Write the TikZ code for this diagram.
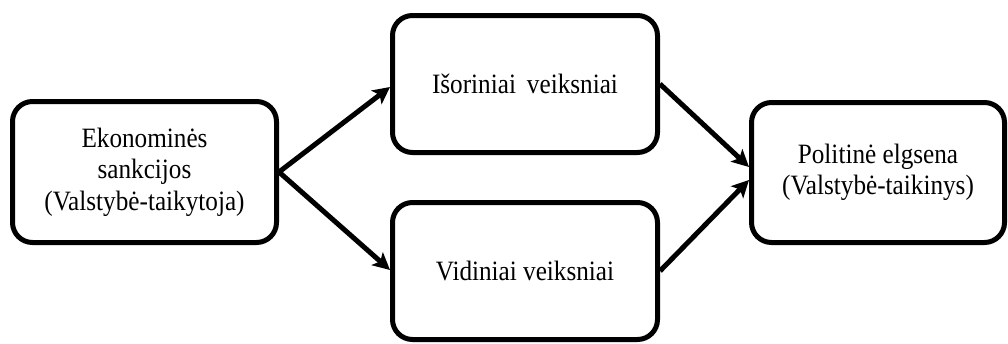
\documentclass[tikz,border=0pt]{standalone}
\usepackage{fontspec}
\setmainfont{Liberation Serif}[FakeStretch=0.9]
\usetikzlibrary{arrows.meta,calc}
\begin{document}
\begin{tikzpicture}[x=1pt,y=-1pt,
  box/.style={draw=black,line width=5pt,rounded corners=20pt,fill=white,align=center,
    font=\fontsize{28}{31.5}\selectfont,inner sep=0pt},
  conn/.style={line width=5pt,-{Stealth[length=17pt,width=17pt,inset=4pt]}}]
\useasboundingbox (0,0) rectangle (1008,343);
\node[box,minimum width=264pt,minimum height=141pt] (L) at (144.5,172) {Ekonominės\\sankcijos\\(Valstybė-taikytoja)};
\node[box,minimum width=265pt,minimum height=137pt] (T) at (525,84) {Išoriniai\, veiksniai};
\node[box,minimum width=265pt,minimum height=137pt] (B) at (525,271) {Vidiniai veiksniai};
\node[box,minimum width=253pt,minimum height=140pt] (R) at (878,172.5) {Politinė elgsena\\(Valstybė-taikinys)};
\draw[conn] (L.east) -- ($(T.west)+(0,3)$);
\draw[conn] (L.east) -- ($(B.west)+(0,-1)$);
\draw[conn] (T.east) -- ($(R.west)+(0,-5.5)$);
\draw[conn] (B.east) -- ($(R.west)+(0,7.5)$);
\end{tikzpicture}
\end{document}
